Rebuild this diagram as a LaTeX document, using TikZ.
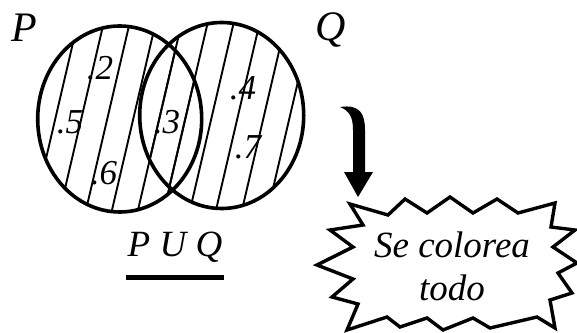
\documentclass[tikz,border=0pt]{standalone}
\usepackage{fontspec}
\setmainfont{Liberation Serif}
\usepackage{tikz}
\usetikzlibrary{arrows.meta, positioning}

\begin{document}
\begin{tikzpicture}[x=1pt, y=-1pt,
    conjunto/.style={line width=3.6pt},
    rayado/.style={line width=1.9pt},
    elemento/.style={font=\fontsize{35}{40}\selectfont\itshape, inner sep=0pt},
    nombre/.style={font=\fontsize{42}{46}\selectfont\itshape, inner sep=0pt},
    estrella/.style={line width=3.4pt, line join=miter, fill=white}]
    \useasboundingbox (0,0) rectangle (577,332);

    % Rayado de P y de Q
    \begin{scope}
      \clip (119.7,119) ellipse (82 and 93);
      \foreach \k in {-2,...,12}
        \draw[rayado] (55+26*\k+28,0) -- (55+26*\k-28,240);
    \end{scope}
    \begin{scope}
      \clip (221.7,115.5) ellipse (82 and 93);
      \foreach \k in {-2,...,14}
        \draw[rayado] (55+26*\k+28,0) -- (55+26*\k-28,240);
    \end{scope}

    % Conjuntos
    \draw[conjunto] (119.7,119) ellipse (82 and 93);
    \draw[conjunto] (221.7,115.5) ellipse (82 and 93);
    \node[nombre] (P) at (24,28) {P};
    \node[nombre] (Q) at (331,30) {Q};

    % Elementos
    \node[elemento] (e2) at (100,68) {.2};
    \node[elemento] (e5) at (70,122) {.5};
    \node[elemento] (e6) at (104,173) {.6};
    \node[elemento] (e3) at (167,122) {.3};
    \node[elemento] (e4) at (243,88) {.4};
    \node[elemento] (e7) at (248,147) {.7};

    % Union
    \node[font=\fontsize{37}{40}\selectfont\itshape, inner sep=0pt] (union) at (175,247) {P U Q};
    \draw[line width=5pt] (126,277) -- (224,277);

    % Flecha
    \fill[black] (340,107) .. controls (360,104) and (365,114) .. (365,130)
      -- (365,172) -- (373,172) -- (358,197) -- (344,172) -- (353,172)
      -- (353,130) .. controls (353,118) and (350,111) .. (340,107) -- cycle;

    % Estrella
    \draw[estrella] (350,204) -- (388,215) -- (405,199) -- (427,213) -- (450,197)
      -- (473,213) -- (497,199) -- (518,213) -- (555,203) -- (551,227)
      -- (575,230) -- (553,247) -- (577,263) -- (558,273) -- (572,293)
      -- (550,300) -- (555,328) -- (537,317) -- (490,328) -- (473,318)
      -- (443,330) -- (427,318) -- (400,327) -- (387,317) -- (347,330)
      -- (358,304) -- (332,297) -- (353,279) -- (317,265) -- (353,247)
      -- (330,230) -- (363,225) -- cycle;
    \node[font=\fontsize{37}{43}\selectfont\itshape, align=center, inner sep=0pt]
      (texto) at (452,266) {Se colorea\\todo};
\end{tikzpicture}
\end{document}
